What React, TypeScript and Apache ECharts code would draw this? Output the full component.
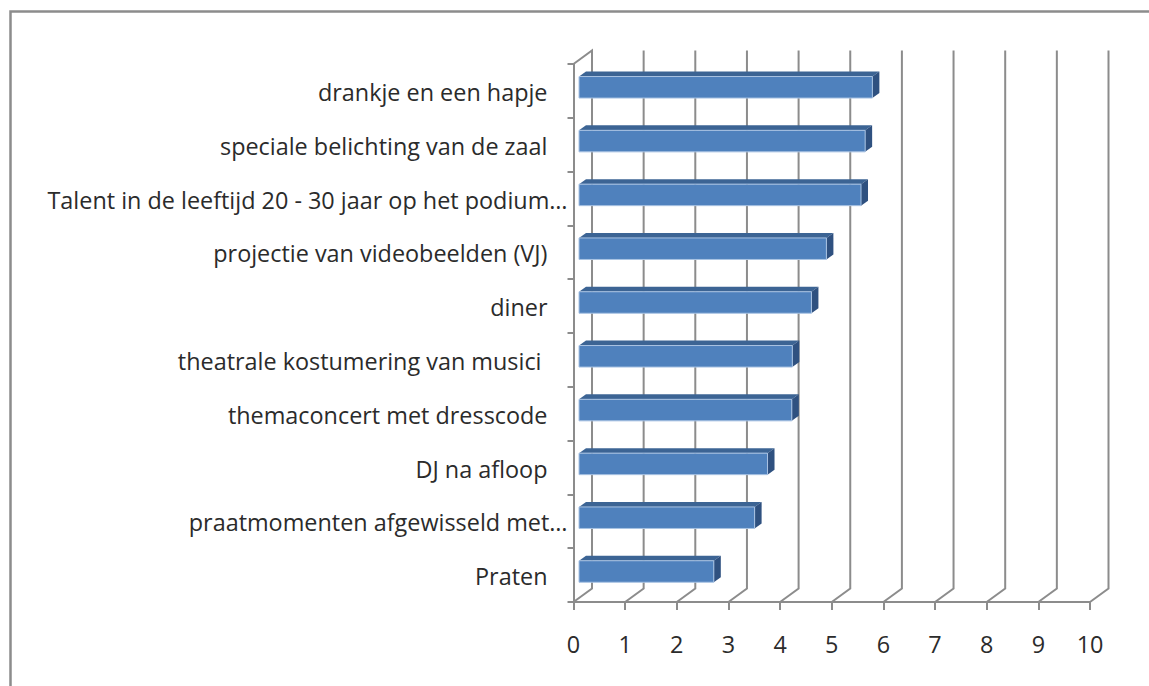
import React, { useEffect, useRef } from "react";
import * as echarts from "echarts";

const categories = [
  "drankje en een hapje",
  "speciale belichting van de zaal",
  "Talent in de leeftijd 20 - 30 jaar op het podium…",
  "projectie van videobeelden (VJ)",
  "diner",
  "theatrale kostumering van musici",
  "themaconcert met dresscode",
  "DJ na afloop",
  "praatmomenten afgewisseld met…",
  "Praten",
];
const values = [5.68, 5.54, 5.46, 4.79, 4.5, 4.13, 4.12, 3.65, 3.4, 2.61];
const valueTicks = [0, 1, 2, 3, 4, 5, 6, 7, 8, 9, 10];

const AXIS = "#8c8c8c";
const TEXT = "#2b2b2b";
const FONT = "Open Sans";
const DEPTH_X = 18.5;
const DEPTH_Y = 13.5;
const BAR_DX = 5.5;
const BAR_DY = 3.6;
const BAR_TOP_X = 7;
const BAR_TOP_Y = 5;

export default function App() {
  const ref = useRef<HTMLDivElement>(null);
  useEffect(() => {
    document.body.style.margin = "0";
    const chart = echarts.init(ref.current!, null, { renderer: "svg" });
    const labelText = { fontFamily: FONT, fontSize: 23.4, color: TEXT };
    chart.setOption({
      animation: false,
      backgroundColor: "#ffffff",
      graphic: [
        {
          type: "polyline",
          shape: { points: [[10.5, 686], [10.5, 11.5], [1149, 11.5]] },
          style: { stroke: "#8c8c8c", lineWidth: 2.5, fill: "none" },
        },
      ],
      grid: { left: 573.5, top: 64, width: 516.5, height: 538 },
      xAxis: {
        type: "value",
        min: 0,
        max: 10,
        interval: 1,
        splitLine: { show: false },
        axisLine: { show: true, lineStyle: { color: AXIS, width: 2 } },
        axisTick: { show: true, length: 8, lineStyle: { color: AXIS, width: 2 } },
        axisLabel: { ...labelText, margin: 30 },
      },
      yAxis: {
        type: "category",
        inverse: true,
        data: categories,
        axisLine: { show: true, onZero: false, lineStyle: { color: AXIS, width: 2 } },
        axisTick: { show: true, length: 6, lineStyle: { color: AXIS, width: 2 } },
        splitLine: { show: false },
        axisLabel: {
          margin: 6,
          interval: 0,
          ...labelText,
          formatter: (v: string) => {
            if (v.endsWith("…")) return `{full|${v}}`;
            if (v.endsWith("musici")) return `{wide|${v}}`;
            return `{norm|${v}}`;
          },
          rich: {
            full: { ...labelText, padding: [2, 0, 0, 0] },
            norm: { ...labelText, padding: [2, 20, 0, 0] },
            wide: { ...labelText, padding: [2, 26, 0, 0] },
          },
        },
      },
      series: [
        {
          type: "custom",
          z: 1,
          data: valueTicks.map((t) => [t, 0]),
          encode: { x: 0, y: 1 },
          renderItem: (params: any, api: any) => {
            const v = api.value(0);
            const x = api.coord([v, 0])[0];
            const cs = params.coordSys;
            const bottom = cs.y + cs.height;
            const lineStyle = { stroke: AXIS, lineWidth: 2, fill: "none" };
            const points: number[][] = [
              [x, bottom],
              [x + DEPTH_X, bottom - DEPTH_Y],
              [x + DEPTH_X, cs.y - DEPTH_Y],
            ];
            if (v === 0) points.push([x, cs.y]);
            return { type: "polyline", shape: { points }, style: lineStyle };
          },
        },
        {
          type: "custom",
          z: 3,
          data: values.map((v, i) => [v, i]),
          encode: { x: 0, y: 1 },
          renderItem: (_: any, api: any) => {
            const [xv, yc] = api.coord([api.value(0), api.value(1)]);
            const x0 = api.coord([0, 0])[0] + BAR_DX;
            const x1 = xv + BAR_DX;
            const h = api.size([0, 1])[1] * 0.4;
            const top = yc - BAR_DY - h / 2;
            const bot = top + h;
            return {
              type: "group",
              children: [
                {
                  type: "polygon",
                  shape: { points: [[x0, top], [x0 + BAR_TOP_X, top - BAR_TOP_Y], [x1 + BAR_TOP_X, top - BAR_TOP_Y], [x1, top]] },
                  style: { fill: "#3c6494" },
                },
                {
                  type: "polygon",
                  shape: { points: [[x1, top], [x1 + BAR_TOP_X, top - BAR_TOP_Y], [x1 + BAR_TOP_X, bot - BAR_TOP_Y], [x1, bot]] },
                  style: { fill: "#2f5180" },
                },
                {
                  type: "rect",
                  shape: { x: x0, y: top, width: x1 - x0, height: h },
                  style: { fill: "#4f81bd", stroke: "#a9c3e3", lineWidth: 1 },
                },
              ],
            };
          },
        },
      ],
    });
    return () => chart.dispose();
  }, []);
  return <div ref={ref} style={{ position: "absolute", left: 0, top: 0, width: 1149, height: 686 }} />;
}
